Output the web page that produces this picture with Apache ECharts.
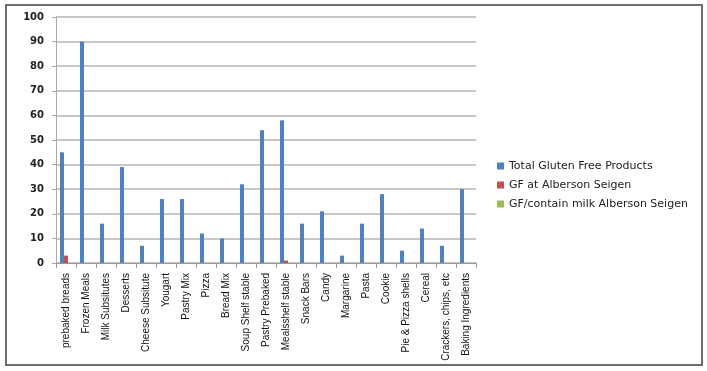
<!DOCTYPE html>
<html>
<head>
<meta charset="utf-8">
<script src="https://cdn.jsdelivr.net/npm/echarts@6/dist/echarts.min.js"></script>
<style>
html,body{margin:0;padding:0;background:#fff;}
#frame{position:absolute;left:5px;top:4px;width:694px;height:358px;border:2px solid #6e6e6e;box-sizing:content-box;}
#c{position:absolute;left:0;top:0;width:707px;height:371px;}
</style>
</head>
<body>
<div id="frame"></div>
<div id="c"></div>
<script>
const categories = ["prebaked breads","Frozen Meals","Milk Subsitutes","Desserts","Cheese Subsitute","Yougart","Pastry Mix","Pizza","Bread Mix","Soup Shelf stable","Pastry Prebaked","Mealsshelf stable","Snack Bars","Candy","Margarine","Pasta","Cookie","Pie & Pizza shells","Cereal","Crackers, chips, etc","Baking Ingredients"];
const totalGF = [45,90,16,39,7,26,26,12,10,32,54,58,16,21,3,16,28,5,14,7,30];
const gfAlberson = [3,0,0,0,0,0,0,0,0,0,0,1,0,0,0,0,0,0,0,0,0];
const gfMilkAlberson = [0,0,0,0,0,0,0,0,0,0,0,0,0,0,0,0,0,0,0,0,0];
const seriesNames = ["Total Gluten Free Products","GF at Alberson Seigen","GF/contain milk Alberson Seigen"];
const yTicks = {min:0, max:100, interval:10};

const chart = echarts.init(document.getElementById('c'), null, {renderer:'canvas'});
const mk = (name, data, color) => ({
  name, type:'bar', data, barWidth:4, barGap:'0%',
  itemStyle:{color}, emphasis:{disabled:true}
});
chart.setOption({
  animation:false,
  backgroundColor:'transparent',
  grid:{left:56, right:231, top:17, bottom:108, containLabel:false},
  legend:{
    orient:'vertical', left:497, top:160, padding:0,
    itemWidth:7, itemHeight:7, itemGap:7, icon:'rect',
    textStyle:{fontFamily:'DejaVu Sans', fontSize:11, color:'#222', lineHeight:12},
    data:seriesNames
  },
  xAxis:{
    type:'category', data:categories,
    axisLine:{lineStyle:{color:'#999', width:1}},
    axisTick:{show:true, interval:0, length:5, lineStyle:{color:'#999'}},
    axisLabel:{interval:0, rotate:90, margin:10, fontFamily:'Liberation Sans', fontSize:10, color:'#111'}
  },
  yAxis:{
    type:'value', min:yTicks.min, max:yTicks.max, interval:yTicks.interval,
    axisLine:{show:true, lineStyle:{color:'#aaa', width:1}},
    axisTick:{show:true, length:4, lineStyle:{color:'#aaa'}},
    axisLabel:{margin:12, fontFamily:'DejaVu Sans', fontWeight:'bold', fontSize:10, color:'#222'},
    splitLine:{lineStyle:{color:'#b4b4b4', width:1.5}}
  },
  series:[
    mk(seriesNames[0], totalGF, '#4F81BD'),
    mk(seriesNames[1], gfAlberson, '#C0504D'),
    mk(seriesNames[2], gfMilkAlberson, '#9BBB59')
  ]
});
</script>
</body>
</html>
